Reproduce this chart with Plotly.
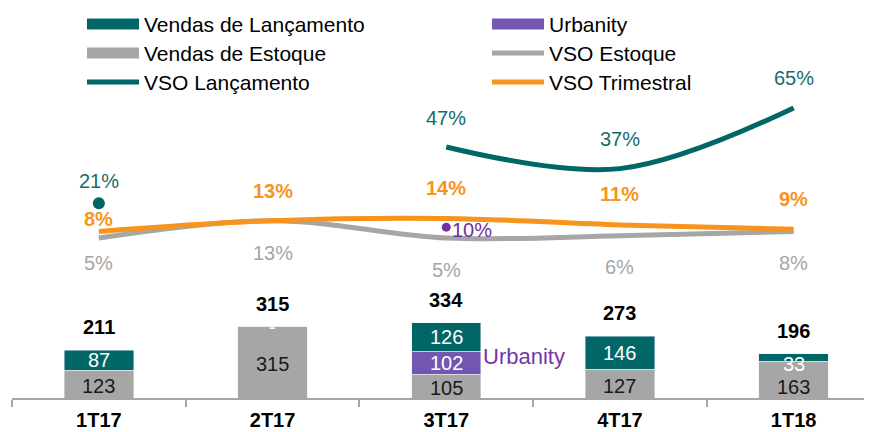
import plotly.graph_objects as go

# ---------------- data ----------------
categories = ["1T17", "2T17", "3T17", "4T17", "1T18"]
vendas_estoque = [123, 315, 105, 127, 163]
urbanity = [None, None, 102, None, None]
vendas_lancamento = [87, 0, 126, 146, 33]
totals = [211, 315, 334, 273, 196]

vso_lancamento = [21, None, 47, 37, 65]
vso_estoque = [5, 13, 5, 6, 8]
vso_trimestral = [8, 13, 14, 11, 9]
vso_urbanity = [None, None, 10, None, None]

# ---------------- style ----------------
TEAL = "#006666"
TEAL_TXT = "#176B6B"
GRAY = "#A6A6A6"
PURPLE_BAR = "#7156B2"
PURPLE = "#7030A0"
ORANGE = "#F7941D"
FONT = "Liberation Sans, Arial, sans-serif"

PAGE_OFF = 8               # default body margin of the html page
W, H = 872 - PAGE_OFF, 432 - PAGE_OFF
ML, MR, MT, MB = 12 - PAGE_OFF, 0, 90 - PAGE_OFF, 34
PLOT_W = W - ML - MR
PLOT_H = H - MT - MB
CAT_PX = 173.7
PX_PER_UNIT = 0.2265       # bars
Y2_ZERO_PX = 248.8 - PAGE_OFF   # figure pixel row of 0% on hidden secondary axis
PX_PER_PCT = 2.167
BOTTOM_PX = H - MB

x_range = [-0.5, -0.5 + PLOT_W / CAT_PX]
y_range = [0, PLOT_H / PX_PER_UNIT]
y2_range = [-(BOTTOM_PX - Y2_ZERO_PX) / PX_PER_PCT, (Y2_ZERO_PX - MT) / PX_PER_PCT]


def px_x(p):
    return (p - PAGE_OFF - ML) / PLOT_W


def px_y(p):
    return (BOTTOM_PX - (p - PAGE_OFF)) / PLOT_H


fig = go.Figure()

BAR_W = 0.4
fig.add_bar(x=categories, y=vendas_estoque, marker_color=GRAY, width=BAR_W,
            name="Vendas de Estoque", showlegend=False)
fig.add_bar(x=categories, y=urbanity, marker_color=PURPLE_BAR, width=BAR_W,
            name="Urbanity", showlegend=False)
fig.add_bar(x=categories, y=vendas_lancamento, marker_color=TEAL, width=BAR_W,
            name="Vendas de Lançamento", showlegend=False)

LW = 5
fig.add_scatter(x=categories, y=vso_estoque, yaxis="y2", mode="lines",
                line=dict(color=GRAY, width=LW, shape="spline"),
                name="VSO Estoque", showlegend=False)
fig.add_scatter(x=categories, y=vso_trimestral, yaxis="y2", mode="lines",
                line=dict(color=ORANGE, width=LW, shape="spline"),
                name="VSO Trimestral", showlegend=False)
fig.add_scatter(x=categories, y=vso_lancamento, yaxis="y2", mode="lines+markers",
                line=dict(color=TEAL, width=LW, shape="spline"),
                marker=dict(color=TEAL, size=[12, 0, 0, 0, 0], opacity=1,
                            line=dict(width=0)),
                connectgaps=False, name="VSO Lançamento", showlegend=False)
fig.add_scatter(x=categories, y=vso_urbanity, yaxis="y2", mode="markers",
                marker=dict(color=PURPLE, size=9, line=dict(width=0)),
                name="VSO Urbanity", showlegend=False)

ann = []

# bar segment labels
for i, c in enumerate(categories):
    est = vendas_estoque[i]
    urb = urbanity[i] or 0
    lan = vendas_lancamento[i]
    small = bool(lan) and lan < 50
    ann.append(dict(x=c, y=est / 2, yref="y", text=str(est), showarrow=False,
                    yshift=-7 if small else -2,
                    font=dict(size=20, color="#1A1A1A", family=FONT)))
    if urbanity[i] is not None:
        ann.append(dict(x=c, y=est + urb / 2, yref="y", text=str(urb), showarrow=False,
                        font=dict(size=20, color="white", family=FONT)))
    ann.append(dict(x=c, y=est + urb + lan / 2, yref="y",
                    text=str(lan) if lan else "-", showarrow=False,
                    yshift=-7 if small else 0,
                    font=dict(size=20, color="white", family=FONT)))
    ann.append(dict(x=c, y=est + urb + lan, yref="y", text=str(totals[i]), showarrow=False,
                    yshift=23, font=dict(size=20, color="black", family=FONT, weight="bold")))

# "Urbanity" tag next to the purple segment
ann.append(dict(x=categories[2], y=vendas_estoque[2] + urbanity[2] / 2, yref="y",
                text="Urbanity", showarrow=False, xanchor="left", xshift=35, yshift=6,
                font=dict(size=22, color="#7636AA", family=FONT)))

# line labels
lanc_shift = [22, 0, 29, 30, 30]
for i, c in enumerate(categories):
    v = vso_lancamento[i]
    if v is not None:
        ann.append(dict(x=c, y=v, yref="y2", text=f"{v}%", showarrow=False,
                        yshift=lanc_shift[i], font=dict(size=20, color=TEAL_TXT, family=FONT)))
trim_shift = [12, 30, 30, 31, 30]
for i, c in enumerate(categories):
    v = vso_trimestral[i]
    ann.append(dict(x=c, y=v, yref="y2", text=f"{v}%", showarrow=False,
                    yshift=trim_shift[i],
                    font=dict(size=20, color=ORANGE, family=FONT, weight="bold")))
est_shift = [-25, -32, -32, -31, -32]
for i, c in enumerate(categories):
    v = vso_estoque[i]
    ann.append(dict(x=c, y=v, yref="y2", text=f"{v}%", showarrow=False,
                    yshift=est_shift[i], font=dict(size=20, color=GRAY, family=FONT)))
for i, c in enumerate(categories):
    v = vso_urbanity[i]
    if v is not None:
        ann.append(dict(x=c, y=v, yref="y2", text=f"{v}%", showarrow=False,
                        xanchor="left", xshift=4, yshift=-3,
                        font=dict(size=20, color=PURPLE, family=FONT)))

# custom legend (positions in reference-page pixels)
shapes = []
legend_items = [
    ("box", TEAL, "Vendas de Lançamento", 87, 139, 24),
    ("box", GRAY, "Vendas de Estoque", 87, 139, 53),
    ("line", TEAL, "VSO Lançamento", 87, 139, 82),
    ("box", PURPLE_BAR, "Urbanity", 492, 544, 24),
    ("line", GRAY, "VSO Estoque", 492, 544, 53),
    ("line", ORANGE, "VSO Trimestral", 492, 544, 82),
]
for kind, col, label, x0, x1, yc in legend_items:
    if kind == "box":
        shapes.append(dict(type="rect", xref="paper", yref="paper",
                           x0=px_x(x0), x1=px_x(x1), y0=px_y(yc + 5.5), y1=px_y(yc - 5.5),
                           fillcolor=col, line=dict(width=0)))
    else:
        shapes.append(dict(type="line", xref="paper", yref="paper",
                           x0=px_x(x0), x1=px_x(x1), y0=px_y(yc), y1=px_y(yc),
                           line=dict(color=col, width=5)))
    ann.append(dict(xref="paper", yref="paper", x=px_x(x1 + 3), y=px_y(yc),
                    xanchor="left", yanchor="middle", text=label, showarrow=False,
                    font=dict(size=21, color="black", family=FONT)))

fig.update_layout(
    width=W, height=H,
    margin=dict(l=ML, r=MR, t=MT, b=MB, autoexpand=False),
    paper_bgcolor="white", plot_bgcolor="white",
    barmode="stack", showlegend=False,
    font=dict(family=FONT),
    xaxis=dict(type="category", range=x_range, showgrid=False, zeroline=False,
               showline=True, linecolor=GRAY, linewidth=2,
               ticks="outside", tickson="boundaries", ticklen=7, tickcolor=GRAY, tickwidth=2,
               ticklabelstandoff=3,
               tickfont=dict(size=20, color="black", family=FONT, weight="bold")),
    yaxis=dict(range=y_range, visible=False, showgrid=False, zeroline=False),
    yaxis2=dict(range=y2_range, overlaying="y", visible=False, showgrid=False, zeroline=False),
    annotations=ann,
    shapes=shapes,
)

fig.write_html("out.html")
